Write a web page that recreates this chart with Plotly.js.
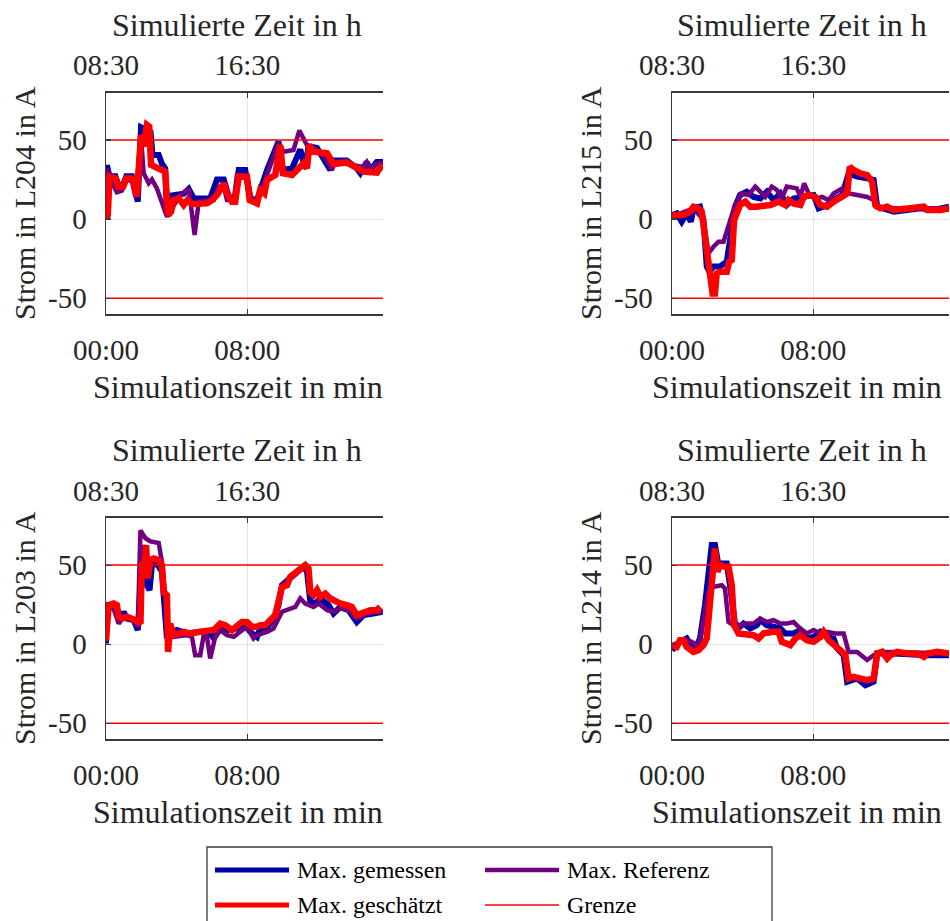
<!DOCTYPE html>
<html>
<head>
<meta charset="utf-8">
<script src="https://cdn.plot.ly/plotly-3.0.1.min.js"></script>
<style>html,body{margin:0;padding:0;background:#fff;}#chart{width:950px;height:921px;}</style>
</head>
<body>
<div id="chart"></div>
<script>
// ---------- data (time in simulation minutes, current in A) ----------
const bottomTickVals = [0, 480];
const bottomTickText = ['00:00', '08:00'];
const topTickText = ['08:30', '16:30'];
const yTickVals = [-50, 0, 50];
const limitValue = 50;
const timeEnd = 941;

const panelNames = ['L204', 'L215', 'L203', 'L214'];
const seriesNames = ['Max. gemessen', 'Max. Referenz', 'Max. geschätzt', 'Grenze'];
const bottomTitle = 'Simulationszeit in min';
const topTitle = 'Simulierte Zeit in h';

// L204
const L204_gem_t = [0,3,12,32,43,58,69,88,100,108,119,130,139,151,158,179,190,201,207,224,264,281,298,354,377,400,417,439,451,473,490,513,547,586,601,632,660,677,688,717,762,773,818,852,864,886,898,920,941];
const L204_gem_v = [0,34,27,27,21,21.5,27,27,18,11,58,57,46,56,40.5,40.5,35,32,3.6,15,16,19,13,13,25,25,14,13,31,31,13,12,31,49,31,32,44,32,46,45,31,37,37,32,29,36,31,36,36];
const L204_ref_t = [0,3,15,37,54,71,88,100,119,128,145,156,173,207,224,252,281,301,315,366,383,400,411,434,445,479,496,513,547,586,603,637,657,674,688,717,751,767,779,818,841,875,886,898,920,941];
const L204_ref_v = [1.5,32,25,17,18,25,24,14,52,29,22.6,25,19.4,1.5,6.8,15,19.4,-10,11,12,20.5,20.5,12,12,28,27,11,10,28,48,42.6,43.7,56,50,44.7,43.7,37,31,36,37,34,33,36,32,35,36];
const L204_est_t = [0,6,12,32,43,58,69,88,96,105,119,128,139,147,153,179,201,211,221,230,247,264,277,292,343,360,377,400,409,428,439,451,479,488,513,524,538,547,575,592,601,632,654,671,683,691,705,728,751,773,818,841,875,920,937];
const L204_est_v = [0.4,2.5,26.8,25.7,20.5,20.5,25.7,25.7,22.6,14.1,53.2,45.8,59.5,58.4,34.2,32.1,30,2.5,4.6,12,13.1,8.9,12,9.5,9.9,12,15.2,22.6,17.3,11,11,26.8,26.8,12,9.9,18.4,16.2,24.7,27.8,46.8,28.9,27.8,31.4,35.2,32.1,46.8,42.6,42,41.6,34.8,35.7,33.5,30,29.3,34.2];

// L215
const L215_gem_t = [0,16,33,50,64,73,95,107,118,127,141,163,186,203,214,231,254,277,300,322,345,368,390,413,447,481,498,527,549,578,600,629,663,685,697,754,799,844,890,941];
const L215_gem_v = [2.5,3.6,-1.7,3.6,-1.7,6.8,7.8,-0.6,-30,-33.3,-30,-30,-27,-7,7.8,15.2,17.3,14,13,17.3,12,16.2,8.9,13,14,15.2,6.8,8.9,12,15.2,28.9,26.8,25.7,24.7,7.8,4.6,5.7,6.8,5.7,7.8];
const L215_ref_t = [0,73,107,124,141,158,175,197,214,237,260,283,300,317,339,356,373,390,424,436,449,464,492,510,532,549,578,600,629,663,685,697,754,941];
const L215_ref_v = [1.5,6.8,-0.6,-21.7,-17.5,-14.3,-14.3,-0.6,8.9,16.2,15.2,20.5,17.3,14,20.5,18.4,13,20.5,19.4,14,22.6,16.2,13,14,12,16.2,19.4,16.2,15.2,14,12,7.8,6.8,6.8];
const L215_est_t = [0,10,39,61,73,90,101,118,129,138,146,152,163,186,194,203,211,220,231,249,266,288,334,362,385,396,413,436,447,464,487,504,527,549,578,595,604,617,640,663,680,691,708,731,754,799,856,867,912,941];
const L215_est_v = [0.4,2.5,2.5,4.6,7.8,6.8,4.6,-21.7,-38.6,-47,-47,-34.4,-33.3,-33.3,-27,-26,-0.6,4.6,8.9,11,7.8,7.8,8.9,11,8.9,12,9.9,8.9,14,15.2,14,8.9,7.8,11,14,16.2,33,31,28.9,27.8,23.6,8.9,6.8,7.8,5.7,6.8,7.8,5.7,5.7,6.8];

// L203
const L203_gem_t = [0,3,26,37,49,60,71,94,108,117,126,139,148,156,173,190,196,207,218,241,275,320,354,366,388,411,445,468,490,513,524,547,569,586,598,626,649,671,683,694,711,728,756,773,796,824,852,875,909,941];
const L203_gem_v = [0.4,24.7,24.7,18.4,15.2,20.5,16.2,15.2,8.9,45.8,62.7,37.3,34.2,50,51,45.8,31,3.6,6.8,8.9,6.8,7.8,6.8,3.6,9.9,8.9,9.9,13,7.8,4.6,9.9,11,15.2,24.7,37.3,41.6,44.7,49,45.8,26.8,25.7,28.9,24.7,19.4,23.6,21.5,14,18.4,19.4,20.5];
const L203_ref_t = [0,6,26,43,60,94,108,117,134,151,179,190,201,213,224,275,292,303,320,332,343,354,371,388,411,434,456,479,501,513,547,569,598,615,643,660,677,705,722,751,773,796,824,852,886,941];
const L203_ref_v = [1.5,22.6,22.6,13,17.3,15.2,11,72,67,65,64,52,31,3.6,4.6,5.7,4.6,-7,-7,5.7,4.6,-9.1,4.6,8.9,5.7,4.6,7.8,11,3.6,5.7,7.8,9.9,20.5,21.5,23.6,28.9,25.7,23.6,25.7,21.5,20.5,22.6,21.5,16.2,19.4,20.5];
const L203_est_t = [0,9,26,37,43,54,71,88,100,117,122,130,136,142,151,162,179,190,196,207,211,218,230,264,286,320,366,388,405,428,445,462,479,496,513,524,541,558,575,598,615,626,649,666,677,688,694,705,717,728,745,762,773,796,818,835,852,875,898,920,932];
const L203_est_v = [2.5,24.7,25.7,24.7,17.3,16.2,17.3,16.2,15.2,13,52,45.8,62.7,41.6,53.2,54.2,53.2,50,33,31,-4.9,13,5.7,7.8,6.8,7.8,8.9,13,12,8.9,12,14,14,11,11,12,12,15.2,18.4,36.3,37.3,42.6,45.8,47.9,50,47.9,33,31,34.2,30,32,28.9,27.8,25.7,24.7,23.6,18.4,20.5,21.5,21.5,23.6];

// L214
const L214_gem_t = [0,27,50,67,84,95,112,124,135,146,158,169,186,197,214,231,243,266,288,300,322,345,368,385,413,436,458,481,504,527,549,561,583,595,629,657,685,697,754,867,941];
const L214_gem_v = [-3.8,1.5,3.6,-1.7,-0.6,3.6,24.7,41.6,62.7,62.7,50,51,51,37.3,13,11,13,9.9,12,15.2,12,11,9.9,6.8,6.8,8.9,3.6,4.6,7.8,4.6,3.6,-2.7,-7,-23.8,-21.7,-26,-23.8,-5.9,-5.9,-7,-7];
const L214_ref_t = [0,27,50,67,84,95,107,124,141,169,180,192,209,231,254,277,300,322,345,368,390,413,436,458,481,504,527,555,583,600,629,663,685,708,754,867,941];
const L214_ref_v = [-0.6,1.5,2.5,1.5,-0.6,2.5,16.2,33,36.3,37.3,35.2,14,12,12,13,13,16.2,14,15.2,13,13,14,9.9,6.8,8.9,6.8,7.8,6.8,6.8,-4.9,-4.9,-10,-7,-4.9,-4.9,-5.9,-5.9];
const L214_est_t = [0,16,27,39,50,73,90,107,118,127,137,146,154,163,180,192,203,211,226,254,277,294,311,345,362,373,402,419,436,458,481,504,515,532,555,578,589,600,617,640,663,685,697,714,731,742,765,799,833,856,867,901,941];
const L214_est_v = [-0.6,-1.7,2.5,2.5,-1.7,-4.9,-3.8,-0.6,3.6,24.7,45.8,60.5,45.8,50,48.9,48.9,37.3,12,6.8,5.7,5.7,3.6,6.8,7.8,7.8,1.5,-0.6,3.6,5.7,2.5,1.5,4.6,7.8,2.5,-0.6,-4.9,-7,-21.7,-20.7,-21.7,-22.8,-21.7,-5.9,-4.9,-9.1,-7,-4.9,-5.9,-5.9,-8,-5.9,-4.9,-5.9];

const panelData = {
  L204: {gem: [L204_gem_t, L204_gem_v], ref: [L204_ref_t, L204_ref_v], est: [L204_est_t, L204_est_v]},
  L215: {gem: [L215_gem_t, L215_gem_v], ref: [L215_ref_t, L215_ref_v], est: [L215_est_t, L215_est_v]},
  L203: {gem: [L203_gem_t, L203_gem_v], ref: [L203_ref_t, L203_ref_v], est: [L203_est_t, L203_est_v]},
  L214: {gem: [L214_gem_t, L214_gem_v], ref: [L214_ref_t, L214_ref_v], est: [L214_est_t, L214_est_v]}
};

// ---------- styling ----------
const FONT = '"Liberation Serif", "Times New Roman", serif';
const TXT = '#262626';
const AX = '#3a3a3a';
const GRID = '#e3e3e3';
const C_GEM = '#0000AA';
const C_REF = '#700080';
const C_EST = '#FF0000';
const C_LIM = '#FF0000';

const W = 950, H = 921;
const px = v => v / W, py = v => 1 - v / H;
const xDomains = [[106/W, 383/W], [672/W, 949/W]];
const yDomains = [[1-314/H, 1-92.5/H], [1-739/H, 1-517.7/H]];
// title placement (pixels) per column / row
const bottomTitleX = [238, 797];
const topTitleX = [237, 802];
const rowShift = [0, 425.2];

const traces = [];
const layout = {
  width: W, height: H,
  margin: {l: 0, r: 0, t: 0, b: 0},
  paper_bgcolor: '#fff', plot_bgcolor: 'rgba(0,0,0,0)',
  showlegend: false,
  font: {family: FONT, color: TXT, size: 29},
  shapes: [], annotations: []
};

panelNames.forEach((name, i) => {
  const col = i % 2, row = Math.floor(i / 2);
  const n = i + 1;
  const xb = 'x' + (n === 1 ? '' : n);
  const yb = 'y' + (n === 1 ? '' : n);
  const xt = 'x' + (n + 4);
  const keyXb = 'xaxis' + (n === 1 ? '' : n);
  const keyY = 'yaxis' + (n === 1 ? '' : n);
  const keyXt = 'xaxis' + (n + 4);

  layout[keyXb] = {
    domain: xDomains[col], anchor: yb, range: [0, timeEnd],
    tickmode: 'array', tickvals: bottomTickVals, ticktext: bottomTickText,
    ticks: 'inside', ticklen: 5, tickwidth: 1.2, tickcolor: AX,
    showline: true, linecolor: AX, linewidth: 1.5,
    showgrid: true, gridcolor: GRID, gridwidth: 1, zeroline: false,
    tickfont: {family: FONT, size: 29, color: TXT},
    ticklabelstandoff: 10,
    fixedrange: true
  };
  layout[keyXt] = {
    domain: xDomains[col], anchor: yb, overlaying: xb, side: 'top', range: [0, timeEnd],
    tickmode: 'array', tickvals: bottomTickVals, ticktext: topTickText,
    ticks: 'inside', ticklen: 5, tickwidth: 1.2, tickcolor: AX,
    showline: true, linecolor: AX, linewidth: 1.5,
    showgrid: false, zeroline: false,
    tickfont: {family: FONT, size: 29, color: TXT},
    ticklabelstandoff: 4,
    fixedrange: true
  };
  layout[keyY] = {
    domain: yDomains[row], anchor: xb, range: [-60, 80],
    tickmode: 'array', tickvals: yTickVals, ticktext: yTickVals.map(String),
    ticks: 'inside', ticklen: 5, tickwidth: 1.2, tickcolor: AX,
    showline: true, linecolor: AX, linewidth: 1.5,
    showgrid: true, gridcolor: GRID, gridwidth: 1, zeroline: false,
    tickfont: {family: FONT, size: 29, color: TXT},
    ticklabelstandoff: 12,
    title: {text: 'Strom in ' + name + ' in A', font: {family: FONT, size: 30, color: TXT}, standoff: 3},
    fixedrange: true
  };

  // axis titles for the bottom (simulation time) and top (simulated time) axes
  layout.annotations.push({xref: 'paper', yref: 'paper', x: px(bottomTitleX[col]), y: py(387 + rowShift[row]),
    xanchor: 'center', yanchor: 'middle', showarrow: false, text: bottomTitle,
    font: {family: FONT, size: 32, color: TXT}});
  layout.annotations.push({xref: 'paper', yref: 'paper', x: px(topTitleX[col]), y: py(25 + rowShift[row]),
    xanchor: 'center', yanchor: 'middle', showarrow: false, text: topTitle,
    font: {family: FONT, size: 32, color: TXT}});

  const d = panelData[name];
  traces.push({x: d.gem[0], y: d.gem[1], xaxis: xb, yaxis: yb, type: 'scatter', mode: 'lines',
    name: seriesNames[0], line: {color: C_GEM, width: 6}, hoverinfo: 'skip'});
  traces.push({x: d.ref[0], y: d.ref[1], xaxis: xb, yaxis: yb, type: 'scatter', mode: 'lines',
    name: seriesNames[1], line: {color: C_REF, width: 4.5}, hoverinfo: 'skip'});
  traces.push({x: d.est[0], y: d.est[1], xaxis: xb, yaxis: yb, type: 'scatter', mode: 'lines',
    name: seriesNames[2], line: {color: C_EST, width: 6.5}, hoverinfo: 'skip'});
  traces.push({x: [0, timeEnd, null, 0, timeEnd], y: [limitValue, limitValue, null, -limitValue, -limitValue],
    xaxis: xt, yaxis: yb, type: 'scatter', mode: 'lines', connectgaps: false,
    name: seriesNames[3], line: {color: C_LIM, width: 1.5}, hoverinfo: 'skip'});
});

// ---------- legend (box, line samples, labels) ----------
layout.shapes.push({type: 'rect', xref: 'paper', yref: 'paper',
  x0: px(207), x1: px(772), y0: py(928), y1: py(847),
  line: {color: AX, width: 1.3}, fillcolor: '#fff', layer: 'below'});
const legendItems = [
  {label: seriesNames[0], color: C_GEM, width: 5, lx: 215, ly: 870},
  {label: seriesNames[1], color: C_REF, width: 4.5, lx: 485, ly: 870},
  {label: seriesNames[2], color: C_EST, width: 5, lx: 215, ly: 905},
  {label: seriesNames[3], color: C_LIM, width: 1.5, lx: 485, ly: 905}
];
legendItems.forEach(it => {
  layout.shapes.push({type: 'line', xref: 'paper', yref: 'paper',
    x0: px(it.lx), x1: px(it.lx + 74), y0: py(it.ly), y1: py(it.ly),
    line: {color: it.color, width: it.width}});
  layout.annotations.push({xref: 'paper', yref: 'paper', x: px(it.lx + 80), y: py(it.ly),
    xanchor: 'left', yanchor: 'middle', showarrow: false, text: it.label,
    font: {family: FONT, size: 24, color: '#000'}});
});

Plotly.newPlot('chart', traces, layout, {displayModeBar: false, staticPlot: true});
</script>
</body>
</html>
